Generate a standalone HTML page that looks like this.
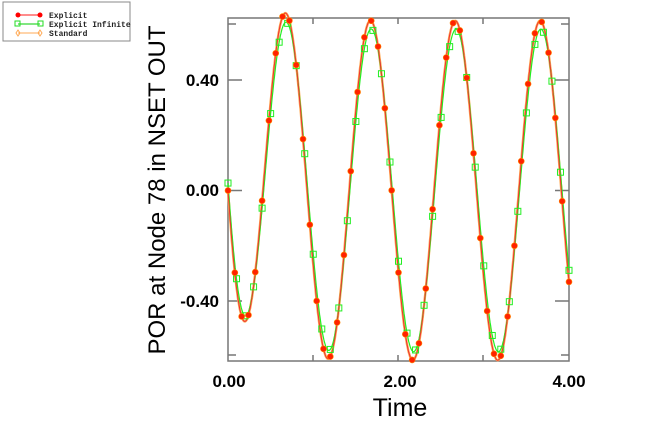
<!DOCTYPE html><html><head><style>body{margin:0;background:#fff}svg{display:block}</style></head><body>
<svg id="s" width="650" height="430" xmlns="http://www.w3.org/2000/svg" font-family="Liberation Sans, sans-serif">
<rect x="0" y="0" width="650" height="430" fill="#fff"/>
<g stroke="#777" stroke-width="1.5" fill="none">
<rect x="228" y="18" width="341" height="343"/>
<path d="M228 80h14M228 190.5h14M228 301h14M569 80h-14M569 190.5h-14M569 301h-14M313 18v6M398 18v6M483 18v6M313 361v-6M398 361v-6M483 361v-6M228 24h8M228 355h8M569 24h-8M569 355h-8"/>
</g>
<g font-size="17" font-weight="bold" fill="#000" text-anchor="end">
<text x="219" y="86">0.40</text><text x="219" y="196">0.00</text><text x="219" y="307">-0.40</text>
</g>
<g font-size="17" font-weight="bold" fill="#000" text-anchor="middle">
<text x="229" y="387">0.00</text><text x="400" y="387">2.00</text><text x="569" y="387">4.00</text>
</g>
<text x="400" y="416" font-size="25" text-anchor="middle">Time</text>
<text transform="translate(165,190) rotate(-90)" font-size="24" text-anchor="middle">POR at Node 78 in NSET OUT</text>
<rect x="3" y="2" width="127" height="39" fill="#fff" stroke="#888"/>
<line x1="18" y1="15" x2="40" y2="15" stroke="#f66" stroke-width="1.5"/><circle cx="18" cy="15" r="2.5" fill="#f00"/><circle cx="40" cy="15" r="2.5" fill="#f00"/>
<line x1="18" y1="24" x2="40" y2="24" stroke="#0c0" stroke-width="1"/><rect x="15" y="21" width="5" height="5" fill="none" stroke="#2d2"/><rect x="38" y="21" width="5" height="5" fill="none" stroke="#2d2"/>
<line x1="18" y1="33" x2="40" y2="33" stroke="#fa5" stroke-width="1"/><path d="M18 30l2 3-2 3-2-3zM40 30l2 3-2 3-2-3z" fill="none" stroke="#fa5"/>
<g font-family="Liberation Mono, monospace" font-size="8" font-weight="bold" fill="#222">
<text x="49" y="18">Explicit</text><text x="49" y="27">Explicit Infinite</text><text x="49" y="36">Standard</text></g>
<g id="p"></g>
</svg>
<script>
var A=0.615,S=Math.sin(2*Math.PI*0.07/0.995)*A;
function f(t,d){d=d||0;return -A*Math.sin(2*Math.PI*(t+0.07+d)/0.995)+S*Math.exp(-t/0.3);}
function X(t){return 228+t*85.25}function Y(v){return 190.5-v*276}
var g=document.getElementById('p'),h='';
function path(col,w,d,a){var s='';for(var t=0;t<=4.0001;t+=0.005){var v=f(t,d)*(a||1);s+=(s?'L':'M')+X(t).toFixed(1)+' '+Y(v).toFixed(1);}return '<path d="'+s+'" fill="none" stroke="'+col+'" stroke-width="'+w+'"/>';}
h+=path('#fa5',2.4,0);
h+=path('#2e2',1.2,-0.008,0.95);
h+=path('#e33',1,0);
for(var t=0;t<=4.0001;t+=0.1){var v=f(t,-0.008)*0.95;h+='<rect x="'+(X(t)-3)+'" y="'+(Y(v)-3)+'" width="6" height="6" fill="none" stroke="#2e2"/>';}
for(var t=0;t<=4.0001;t+=0.08){h+='<circle cx="'+X(t)+'" cy="'+Y(f(t))+'" r="3" fill="#f20" stroke="#f80" stroke-width="0.6"/>';}
g.innerHTML=h;
</script>
</body></html>
